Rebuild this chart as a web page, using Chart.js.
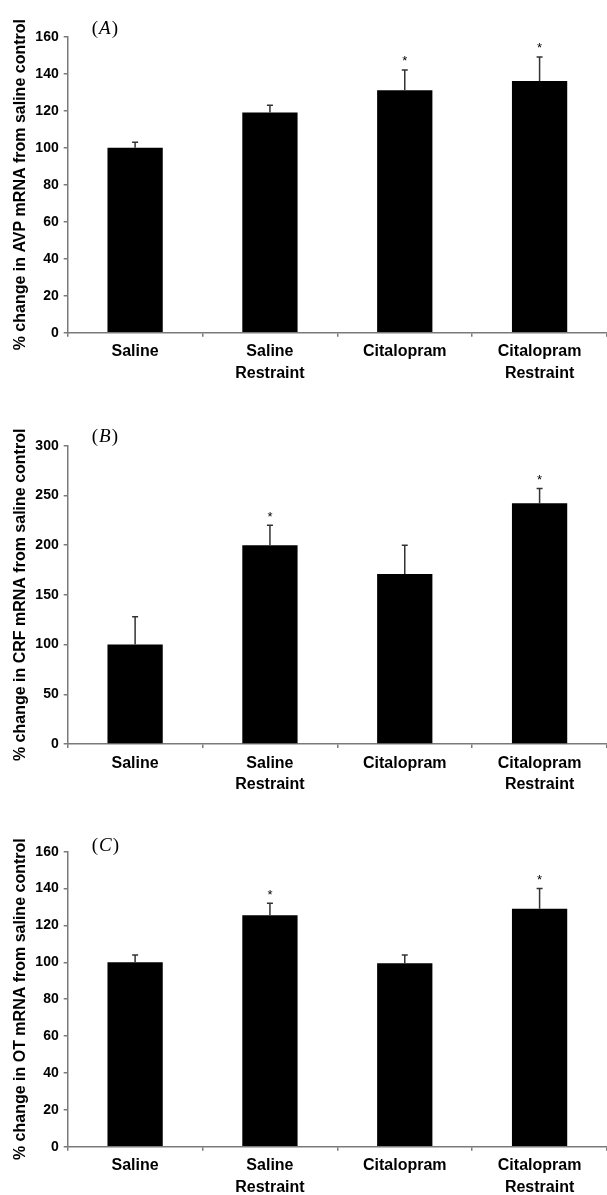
<!DOCTYPE html>
<html><head><meta charset="utf-8">
<script src="https://cdn.jsdelivr.net/npm/chart.js@4.4.0/dist/chart.umd.min.js"></script>
<style>
html,body{margin:0;padding:0;background:#fff;width:607px;height:1195px;overflow:hidden}
.panel{position:absolute;left:0;width:607px;height:400px}
</style></head><body>
<div class="panel" style="top:0"><canvas id="cA"></canvas></div>
<div class="panel" style="top:400px"><canvas id="cB"></canvas></div>
<div class="panel" style="top:795px"><canvas id="cC"></canvas></div>
<script>
// ---- data ----
const categories = [["Saline"], ["Saline", "Restraint"], ["Citalopram"], ["Citalopram", "Restraint"]];

const avpMeans = [100, 119, 131, 136];
const avpSem   = [3, 4, 11, 13];
const avpSig   = [false, false, true, true];
const avpAxis  = {min: 0, max: 160, step: 20};

const crfMeans = [100, 200, 171, 242];
const crfSem   = [28, 20, 29, 15];
const crfSig   = [false, true, false, true];
const crfAxis  = {min: 0, max: 300, step: 50};

const otMeans  = [100, 125.5, 99.5, 129];
const otSem    = [4, 6.5, 4.5, 11];
const otSig    = [false, true, false, true];
const otAxis   = {min: 0, max: 160, step: 20};

const panelLetters = ["A", "B", "C"];
const yTitles = [
  "% change in AVP mRNA from saline control",
  "% change in CRF mRNA from saline control",
  "% change in OT mRNA from saline control"
];

const SANS = "'Liberation Sans', Arial, sans-serif";
const SERIF = "'Liberation Serif', 'Times New Roman', serif";
const AXIS_COLOR = '#7a7a7a';

const errPlugin = {
  id: 'errbars',
  afterDatasetsDraw(chart, args, opts) {
    const ctx = chart.ctx;
    const y = chart.scales.y;
    const meta = chart.getDatasetMeta(0);
    const vals = chart.data.datasets[0].data;
    ctx.save();
    meta.data.forEach((bar, i) => {
      const x = bar.x;
      const yt = y.getPixelForValue(vals[i]);
      const ye = y.getPixelForValue(vals[i] + opts.sem[i]);
      ctx.strokeStyle = '#333';
      ctx.lineWidth = 1.5;
      ctx.beginPath();
      ctx.moveTo(x, yt); ctx.lineTo(x, ye);
      ctx.moveTo(x - 3, ye); ctx.lineTo(x + 3, ye);
      ctx.stroke();
      if (opts.sig[i]) {
        ctx.fillStyle = '#000';
        ctx.font = "13px " + SANS;
        ctx.textAlign = 'center';
        ctx.textBaseline = 'alphabetic';
        ctx.fillText('*', x, ye - 12 + 7.4);
      }
    });
    // panel letter
    const lx = chart.chartArea.left + 24;
    const ly = chart.chartArea.top + opts.letterDy;
    ctx.fillStyle = '#000';
    ctx.textBaseline = 'middle';
    ctx.textAlign = 'left';
    ctx.font = "19px " + SERIF;
    let cx = lx;
    ctx.fillText('(', cx, ly); cx += ctx.measureText('(').width + 1;
    ctx.font = "italic 19px " + SERIF;
    ctx.fillText(opts.letter, cx, ly); cx += ctx.measureText(opts.letter).width + 1;
    ctx.font = "19px " + SERIF;
    ctx.fillText(')', cx, ly);
    ctx.restore();
  }
};

function makeChart(id, means, sem, sig, axis, title, letter, padTop, xH, letterDy) {
  new Chart(document.getElementById(id), {
    type: 'bar',
    data: {
      labels: categories,
      datasets: [{
        data: means,
        backgroundColor: '#000',
        borderWidth: 0,
        barPercentage: 0.41,
        categoryPercentage: 1.0
      }]
    },
    options: {
      responsive: true,
      maintainAspectRatio: false,
      animation: false,
      events: [],
      layout: {padding: {top: padTop, right: 0, bottom: 0, left: 0}},
      plugins: {
        legend: {display: false},
        tooltip: {enabled: false},
        errbars: {sem: sem, sig: sig, letter: letter, letterDy: letterDy}
      },
      scales: {
        x: {
          afterFit: (s) => { s.height = xH; },
          border: {display: true, color: AXIS_COLOR, width: 1.5},
          grid: {display: true, offset: true, drawOnChartArea: false, drawTicks: true, tickLength: 4, color: AXIS_COLOR, lineWidth: 1.5},
          ticks: {color: '#000', padding: 4.5, maxRotation: 0, autoSkip: false,
                  font: {family: SANS, size: 16, weight: 'bold', lineHeight: 1.35}}
        },
        y: {
          min: axis.min, max: axis.max,
          afterFit: (s) => { s.width = 67.7; },
          border: {display: true, color: AXIS_COLOR, width: 1.5},
          grid: {display: true, drawOnChartArea: false, drawTicks: true, tickLength: 4, color: AXIS_COLOR, lineWidth: 1.5},
          ticks: {stepSize: axis.step, color: '#000', padding: 5,
                  font: {family: SANS, size: 14, weight: 'bold'}},
          title: {display: true, text: title, color: '#000', padding: {top: 12, bottom: 0},
                  font: {family: SANS, size: 16, weight: 'bold', lineHeight: 1.1}}
        }
      }
    },
    plugins: [errPlugin]
  });
}

makeChart('cA', avpMeans, avpSem, avpSig, avpAxis, yTitles[0], panelLetters[0], 36.7, 400 - 332.7, -8);
makeChart('cB', crfMeans, crfSem, crfSig, crfAxis, yTitles[1], panelLetters[1], 45.7, 400 - 344, -9);
makeChart('cC', otMeans, otSem, otSig, otAxis, yTitles[2], panelLetters[2], 56.7, 400 - 351.7, -6);
</script>
</body></html>
